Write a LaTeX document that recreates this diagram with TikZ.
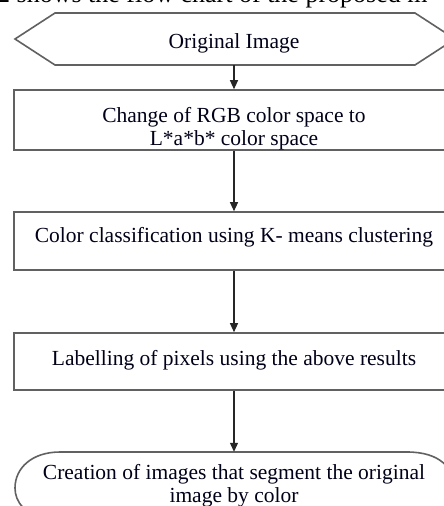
\documentclass[tikz,border=0pt]{standalone}
\usepackage{fontspec}
\setmainfont{Liberation Serif}
\usetikzlibrary{arrows.meta}
\begin{document}
\begin{tikzpicture}[x=1pt,y=-1pt,
  boxline/.style={draw=black!62, line width=1.6pt},
  stepbox/.style={boxline, rectangle, minimum width=440pt, inner sep=0pt},
  lbl/.style={font=\fontsize{21.5}{23}\selectfont, text=black!90!blue, anchor=base, inner sep=0pt, align=center},
  flow/.style={draw=black!85, line width=1.2pt, -{Triangle[length=9pt,width=8pt]}},
  hidden/.style={rectangle, inner sep=0pt, minimum width=400pt}
]
\useasboundingbox (0,0) rectangle (444,506);
\clip (0,0) rectangle (444,506);
\fill[white] (0,0) rectangle (444,506);

% partial line of surrounding text
\node[anchor=base west, inner sep=0pt, font=\fontsize{26}{30}\selectfont] (toptext) at (-3,2) {2 shows the flow chart of the proposed m};

% hexagon
\node[hidden, minimum height=52pt] (hex) at (234,39) {};
\draw[boxline] (55,13) -- (415,13) -- (455,39) -- (415,65) -- (55,65) -- (15,39) -- cycle;
\node[lbl] (t0) at (234,48) {Original Image};

% boxes
\node[stepbox, minimum height=60pt] (b1) at (234,120) {};
\node[lbl] (t1a) at (234,122) {Change of RGB color space to};
\node[lbl] (t1b) at (234,145) {L*a*b* color space};

\node[stepbox, minimum height=58pt] (b2) at (234,241) {};
\node[lbl] (t2) at (234,242) {Color classification using K- means clustering};

\node[stepbox, minimum height=57pt] (b3) at (234,361.5) {};
\node[lbl] (t3) at (234,365) {Labelling of pixels using the above results};

% terminal
\node[hidden, minimum height=70pt] (term) at (234,487) {};
\draw[boxline] (407,452) .. controls (440,452) and (454,468) .. (454,488)
  .. controls (454,505) and (442,515) .. (420,522) -- (50,522)
  .. controls (25,515) and (15,502) .. (15,488)
  .. controls (15,468) and (32,452) .. (60,452) -- cycle;
\node[lbl] (t4a) at (234,479) {Creation of images that segment the original};
\node[lbl] (t4b) at (234,502) {image by color};

% connectors
\draw[flow] (hex.south) -- (b1.north);
\draw[flow] (b1.south) -- (b2.north);
\draw[flow] (b2.south) -- (b3.north);
\draw[flow] (b3.south) -- (term.north);
\end{tikzpicture}
\end{document}
